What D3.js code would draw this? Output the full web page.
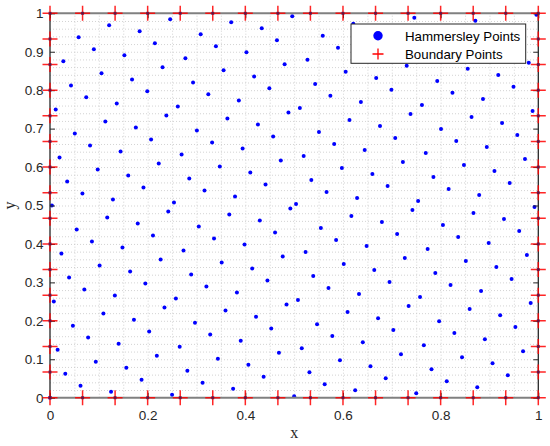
<!DOCTYPE html>
<html>
<head>
<meta charset="utf-8">
<script src="https://cdn.jsdelivr.net/npm/d3@7"></script>
<style>
  html, body { margin: 0; padding: 0; background: #ffffff; }
  svg { display: block; }
</style>
</head>
<body>
<div id="chart"></div>
<script>
// ---------- data ----------
const hamX = [
  0,0.0039,0.0078,0.0117,0.0156,0.0195,0.0234,0.0273,0.0313,0.0352,0.0391,0.043,0.0469,0.0508,0.0547,0.0586,
  0.0625,0.0664,0.0703,0.0742,0.0781,0.082,0.0859,0.0898,0.0938,0.0977,0.1016,0.1055,0.1094,0.1133,0.1172,0.1211,
  0.125,0.1289,0.1328,0.1367,0.1406,0.1445,0.1484,0.1523,0.1563,0.1602,0.1641,0.168,0.1719,0.1758,0.1797,0.1836,
  0.1875,0.1914,0.1953,0.1992,0.2031,0.207,0.2109,0.2148,0.2188,0.2227,0.2266,0.2305,0.2344,0.2383,0.2422,0.2461,
  0.25,0.2539,0.2578,0.2617,0.2656,0.2695,0.2734,0.2773,0.2813,0.2852,0.2891,0.293,0.2969,0.3008,0.3047,0.3086,
  0.3125,0.3164,0.3203,0.3242,0.3281,0.332,0.3359,0.3398,0.3438,0.3477,0.3516,0.3555,0.3594,0.3633,0.3672,0.3711,
  0.375,0.3789,0.3828,0.3867,0.3906,0.3945,0.3984,0.4023,0.4063,0.4102,0.4141,0.418,0.4219,0.4258,0.4297,0.4336,
  0.4375,0.4414,0.4453,0.4492,0.4531,0.457,0.4609,0.4648,0.4688,0.4727,0.4766,0.4805,0.4844,0.4883,0.4922,0.4961,
  0.5,0.5039,0.5078,0.5117,0.5156,0.5195,0.5234,0.5273,0.5313,0.5352,0.5391,0.543,0.5469,0.5508,0.5547,0.5586,
  0.5625,0.5664,0.5703,0.5742,0.5781,0.582,0.5859,0.5898,0.5938,0.5977,0.6016,0.6055,0.6094,0.6133,0.6172,0.6211,
  0.625,0.6289,0.6328,0.6367,0.6406,0.6445,0.6484,0.6523,0.6563,0.6602,0.6641,0.668,0.6719,0.6758,0.6797,0.6836,
  0.6875,0.6914,0.6953,0.6992,0.7031,0.707,0.7109,0.7148,0.7188,0.7227,0.7266,0.7305,0.7344,0.7383,0.7422,0.7461,
  0.75,0.7539,0.7578,0.7617,0.7656,0.7695,0.7734,0.7773,0.7813,0.7852,0.7891,0.793,0.7969,0.8008,0.8047,0.8086,
  0.8125,0.8164,0.8203,0.8242,0.8281,0.832,0.8359,0.8398,0.8438,0.8477,0.8516,0.8555,0.8594,0.8633,0.8672,0.8711,
  0.875,0.8789,0.8828,0.8867,0.8906,0.8945,0.8984,0.9023,0.9063,0.9102,0.9141,0.918,0.9219,0.9258,0.9297,0.9336,
  0.9375,0.9414,0.9453,0.9492,0.9531,0.957,0.9609,0.9648,0.9688,0.9727,0.9766,0.9805,0.9844,0.9883,0.9922,0.9961
];
const hamY = [
  0,0.5,0.25,0.75,0.125,0.625,0.375,0.875,0.0625,0.5625,0.3125,0.8125,0.1875,0.6875,0.4375,0.9375,
  0.0313,0.5313,0.2813,0.7813,0.1563,0.6563,0.4063,0.9063,0.0938,0.5938,0.3438,0.8438,0.2188,0.7188,0.4688,0.9688,
  0.0156,0.5156,0.2656,0.7656,0.1406,0.6406,0.3906,0.8906,0.0781,0.5781,0.3281,0.8281,0.2031,0.7031,0.4531,0.9531,
  0.0469,0.5469,0.2969,0.7969,0.1719,0.6719,0.4219,0.9219,0.1094,0.6094,0.3594,0.8594,0.2344,0.7344,0.4844,0.9844,
  0.0078,0.5078,0.2578,0.7578,0.1328,0.6328,0.3828,0.8828,0.0703,0.5703,0.3203,0.8203,0.1953,0.6953,0.4453,0.9453,
  0.0391,0.5391,0.2891,0.7891,0.1641,0.6641,0.4141,0.9141,0.1016,0.6016,0.3516,0.8516,0.2266,0.7266,0.4766,0.9766,
  0.0234,0.5234,0.2734,0.7734,0.1484,0.6484,0.3984,0.8984,0.0859,0.5859,0.3359,0.8359,0.2109,0.7109,0.4609,0.9609,
  0.0547,0.5547,0.3047,0.8047,0.1797,0.6797,0.4297,0.9297,0.1172,0.6172,0.3672,0.8672,0.2422,0.7422,0.4922,0.9922,
  0.0039,0.5039,0.2539,0.7539,0.1289,0.6289,0.3789,0.8789,0.0664,0.5664,0.3164,0.8164,0.1914,0.6914,0.4414,0.9414,
  0.0352,0.5352,0.2852,0.7852,0.1602,0.6602,0.4102,0.9102,0.0977,0.5977,0.3477,0.8477,0.2227,0.7227,0.4727,0.9727,
  0.0195,0.5195,0.2695,0.7695,0.1445,0.6445,0.3945,0.8945,0.082,0.582,0.332,0.832,0.207,0.707,0.457,0.957,
  0.0508,0.5508,0.3008,0.8008,0.1758,0.6758,0.4258,0.9258,0.1133,0.6133,0.3633,0.8633,0.2383,0.7383,0.4883,0.9883,
  0.0117,0.5117,0.2617,0.7617,0.1367,0.6367,0.3867,0.8867,0.0742,0.5742,0.3242,0.8242,0.1992,0.6992,0.4492,0.9492,
  0.043,0.543,0.293,0.793,0.168,0.668,0.418,0.918,0.1055,0.6055,0.3555,0.8555,0.2305,0.7305,0.4805,0.9805,
  0.0273,0.5273,0.2773,0.7773,0.1523,0.6523,0.4023,0.9023,0.0898,0.5898,0.3398,0.8398,0.2148,0.7148,0.4648,0.9648,
  0.0586,0.5586,0.3086,0.8086,0.1836,0.6836,0.4336,0.9336,0.1211,0.6211,0.3711,0.8711,0.2461,0.7461,0.4961,0.9961
];
// boundary points: bottom (16), top (16), left (14), right (14)
const boundaryX = [
  0,0.0667,0.1333,0.2,0.2667,0.3333,0.4,0.4667,0.5333,0.6,0.6667,0.7333,0.8,0.8667,0.9333,1,
  0,0.0667,0.1333,0.2,0.2667,0.3333,0.4,0.4667,0.5333,0.6,0.6667,0.7333,0.8,0.8667,0.9333,1,
  0,0,0,0,0,0,0,0,0,0,0,0,0,0,
  1,1,1,1,1,1,1,1,1,1,1,1,1,1
];
const boundaryY = [
  0,0,0,0,0,0,0,0,0,0,0,0,0,0,0,0,
  1,1,1,1,1,1,1,1,1,1,1,1,1,1,1,1,
  0.0667,0.1333,0.2,0.2667,0.3333,0.4,0.4667,0.5333,0.6,0.6667,0.7333,0.8,0.8667,0.9333,
  0.0667,0.1333,0.2,0.2667,0.3333,0.4,0.4667,0.5333,0.6,0.6667,0.7333,0.8,0.8667,0.9333
];
const xTicks = [0, 0.2, 0.4, 0.6, 0.8, 1];
const xTickLabels = ["0", "0.2", "0.4", "0.6", "0.8", "1"];
const yTicks = [0, 0.1, 0.2, 0.3, 0.4, 0.5, 0.6, 0.7, 0.8, 0.9, 1];
const yTickLabels = ["0", "0.1", "0.2", "0.3", "0.4", "0.5", "0.6", "0.7", "0.8", "0.9", "1"];
const xMinorTicks = [0.05,0.1,0.15,0.2,0.25,0.3,0.35,0.4,0.45,0.5,0.55,0.6,0.65,0.7,0.75,0.8,0.85,0.9,0.95];
const yMinorTicks = [0.02,0.04,0.06,0.08,0.1,0.12,0.14,0.16,0.18,0.2,0.22,0.24,0.26,0.28,0.3,0.32,0.34,0.36,0.38,0.4,
  0.42,0.44,0.46,0.48,0.5,0.52,0.54,0.56,0.58,0.6,0.62,0.64,0.66,0.68,0.7,0.72,0.74,0.76,0.78,0.8,
  0.82,0.84,0.86,0.88,0.9,0.92,0.94,0.96,0.98];
const legendLabels = ["Hammersley Points", "Boundary Points"];
const xLabel = "x", yLabel = "y";

// ---------- layout ----------
const W = 550, H = 446;
const L = 50, R = 538.3, T = 13.3, B = 397.7;
const svg = d3.select("#chart").append("svg").attr("width", W).attr("height", H);
const x = d3.scaleLinear().domain([0, 1]).range([L, R]);
const y = d3.scaleLinear().domain([0, 1]).range([B, T]);
const sans = "'Liberation Sans', Arial, Helvetica, sans-serif";
const serif = "'Liberation Serif', 'Times New Roman', serif";

// grid (minor + major, dotted)
const gridStyle = g => {
  g.select(".domain").remove();
  g.selectAll(".tick line").attr("stroke", "#c8c8c8").attr("stroke-width", 0.8).attr("stroke-dasharray", "1,2");
  g.selectAll("text").remove();
};
svg.append("g").attr("transform", `translate(0,${B})`)
  .call(d3.axisBottom(x).tickValues(xMinorTicks).tickSize(-(B - T)).tickFormat(""))
  .call(gridStyle);
svg.append("g").attr("transform", `translate(${L},0)`)
  .call(d3.axisLeft(y).tickValues(yMinorTicks).tickSize(-(R - L)).tickFormat(""))
  .call(gridStyle);

// Hammersley points
const ham = hamX.map((v, i) => ({ x: v, y: hamY[i] }));
svg.append("g").selectAll("circle").data(ham).join("circle")
  .attr("cx", d => x(d.x)).attr("cy", d => y(d.y)).attr("r", 2)
  .attr("fill", "#0000ff");

// axis lines
svg.append("line").attr("x1", L).attr("x2", R).attr("y1", B).attr("y2", B).attr("stroke", "#808080").attr("stroke-width", 2);
svg.append("line").attr("x1", L).attr("x2", R).attr("y1", T).attr("y2", T).attr("stroke", "#808080").attr("stroke-width", 2);
svg.append("line").attr("x1", L).attr("x2", L).attr("y1", T).attr("y2", B).attr("stroke", "#262626").attr("stroke-width", 1.3);
svg.append("line").attr("x1", R).attr("x2", R).attr("y1", T).attr("y2", B).attr("stroke", "#262626").attr("stroke-width", 1.3);

// axes with inward ticks
const axStyle = g => {
  g.select(".domain").remove();
  g.selectAll(".tick line").attr("stroke", "#262626").attr("stroke-width", 1);
  g.selectAll("text").attr("font-family", sans).attr("font-size", 13.5).attr("fill", "#262626");
};
svg.append("g").attr("transform", `translate(0,${B})`)
  .call(d3.axisBottom(x).tickValues(xTicks).tickSize(-5).tickPadding(12.5).tickFormat((d, i) => xTickLabels[i]))
  .call(axStyle);
svg.append("g").attr("transform", `translate(0,${T})`)
  .call(d3.axisTop(x).tickValues(xTicks).tickSize(-5).tickFormat(""))
  .call(axStyle);
svg.append("g").attr("transform", `translate(${L},0)`)
  .call(d3.axisLeft(y).tickValues(yTicks).tickSize(-5).tickPadding(6.5).tickFormat((d, i) => yTickLabels[i]))
  .call(axStyle);
svg.append("g").attr("transform", `translate(${R},0)`)
  .call(d3.axisRight(y).tickValues(yTicks).tickSize(-5).tickFormat(""))
  .call(axStyle);

// boundary points (red plus)
const bnd = boundaryX.map((v, i) => ({ x: v, y: boundaryY[i] }));
const arm = 7.5;
const bg = svg.append("g");
bg.selectAll("path.plus").data(bnd).join("path").attr("class", "plus")
  .attr("d", d => `M${x(d.x) - arm},${y(d.y)}H${x(d.x) + arm}M${x(d.x)},${y(d.y) - arm}V${y(d.y) + arm}`)
  .attr("stroke", "#ff0000").attr("stroke-opacity", 0.85).attr("stroke-width", 1.5).attr("fill", "none");
bg.selectAll("rect.ctr").data(bnd).join("rect").attr("class", "ctr")
  .attr("x", d => x(d.x) - 1.5).attr("y", d => y(d.y) - 1.5).attr("width", 3).attr("height", 3)
  .attr("fill", "#50104a").attr("opacity", 0.8);

// axis labels
svg.append("text").attr("x", (L + R) / 2).attr("y", 438).attr("text-anchor", "middle")
  .attr("font-family", serif).attr("font-size", 16).attr("fill", "#262626").text(xLabel);
svg.append("text").attr("transform", `translate(14.5,${(T + B) / 2}) rotate(-90)`).attr("text-anchor", "middle")
  .attr("font-family", serif).attr("font-size", 16).attr("fill", "#262626").text(yLabel);

// legend
const lg = svg.append("g");
lg.append("rect").attr("x", 351).attr("y", 24).attr("width", 174.7).attr("height", 39.3)
  .attr("fill", "#ffffff").attr("stroke", "#262626").attr("stroke-width", 1);
lg.append("circle").attr("cx", 378).attr("cy", 35.7).attr("r", 4.7).attr("fill", "#0000ff");
lg.append("path").attr("d", "M372.5,54H383.5M378,48.5V59.5").attr("stroke", "#ff0000").attr("stroke-width", 1.3);
lg.selectAll("text").data(legendLabels).join("text")
  .attr("x", 405).attr("y", (d, i) => [40.7, 58.5][i])
  .attr("font-family", sans).attr("font-size", 13.3).attr("fill", "#000000").text(d => d);
</script>
</body>
</html>
